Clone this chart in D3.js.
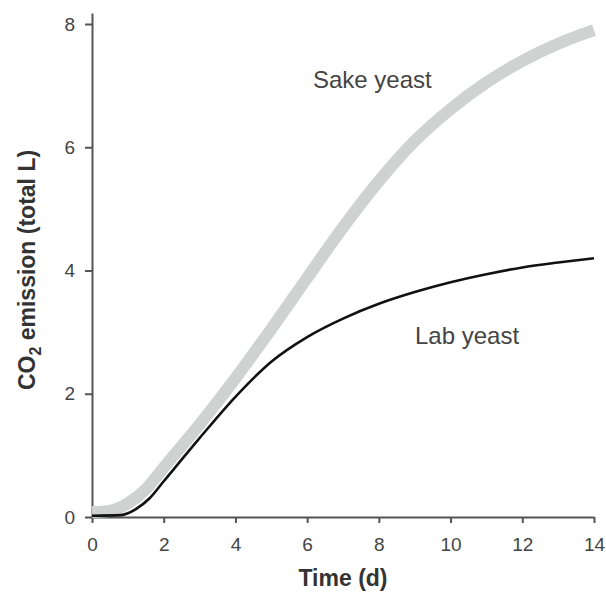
<!DOCTYPE html>
<html>
<head>
<meta charset="utf-8">
<script src="https://cdn.jsdelivr.net/npm/d3@7"></script>
<style>
  body { margin: 0; background: #fff; }
  svg { font-family: "Liberation Sans", Arial, sans-serif; }
</style>
</head>
<body>
<svg id="vis"></svg>
<script>
// Datos
const DAYS_SAKE = [0, 0.5, 1, 1.5, 2, 3, 4, 5, 6, 7, 8, 9, 10, 11, 12, 13, 14];
const CO2_SAKE = [0.08, 0.1, 0.22, 0.45, 0.8, 1.5, 2.25, 3.05, 3.88, 4.7, 5.45, 6.1, 6.62, 7.05, 7.4, 7.68, 7.9];
const DAYS_LAB = [0, 0.8, 1, 1.2, 1.6, 2, 3, 4, 5, 6, 7, 8, 9, 10, 11, 12, 13, 14];
const CO2_LAB = [0.02, 0.03, 0.06, 0.12, 0.3, 0.58, 1.28, 1.95, 2.52, 2.92, 3.22, 3.46, 3.65, 3.81, 3.94, 4.05, 4.13, 4.2];
const X_TICKS = [0, 2, 4, 6, 8, 10, 12, 14];
const Y_TICKS = [0, 2, 4, 6, 8];

const WIDTH = 606;
const HEIGHT = 594;

const svg = d3.select("#vis")
    .attr("width", WIDTH)
    .attr("height", HEIGHT);

const escalaX = d3.scaleLinear().domain([0, 14]).range([92, 594]);
const escalaY = d3.scaleLinear().domain([0, 8]).range([517, 24]);

// Eje X
const ejeX = svg.append("g")
    .attr("transform", `translate(0, ${escalaY(0)})`)
    .call(d3.axisBottom(escalaX).tickValues(X_TICKS).tickSize(6).tickSizeOuter(0).tickPadding(15));

// Eje Y (se alarga un poco sobre el 8)
const escalaYEje = escalaY.copy().domain([0, 8.18]).range([517, escalaY(8.18)]);
const ejeY = svg.append("g")
    .attr("transform", `translate(${escalaX(0)}, 0)`)
    .call(d3.axisLeft(escalaYEje).tickValues(Y_TICKS).tickSize(7).tickSizeOuter(0).tickPadding(10));

[ejeX, ejeY].forEach(g => {
    g.select(".domain").attr("stroke", "#555").attr("stroke-width", 2);
    g.selectAll(".tick line").attr("stroke", "#555").attr("stroke-width", 2);
    g.selectAll(".tick text")
        .attr("fill", "#444")
        .style("font-size", "19px")
        .style("font-family", "Liberation Sans, Arial, sans-serif");
});

const linea = d3.line()
    .x(d => escalaX(d[0]))
    .y(d => escalaY(d[1]))
    .curve(d3.curveMonotoneX);

// Curva levadura sake (gris gruesa)
svg.append("path")
    .datum(DAYS_SAKE.map((d, i) => [d, CO2_SAKE[i]]))
    .attr("fill", "none")
    .attr("stroke", "#d0d1d1")
    .attr("stroke-width", 12)
    .attr("d", linea);

// Curva levadura de laboratorio
svg.append("path")
    .datum(DAYS_LAB.map((d, i) => [d, CO2_LAB[i]]))
    .attr("fill", "none")
    .attr("stroke", "#111")
    .attr("stroke-width", 2.6)
    .attr("d", linea);

// Etiquetas de series
svg.append("text")
    .attr("x", 313)
    .attr("y", 88)
    .attr("fill", "#444")
    .style("font-size", "24px")
    .text("Sake yeast");

svg.append("text")
    .attr("x", 415)
    .attr("y", 344)
    .attr("fill", "#444")
    .style("font-size", "24px")
    .text("Lab yeast");

// Nombres de ejes
svg.append("text")
    .attr("x", 343)
    .attr("y", 586)
    .attr("text-anchor", "middle")
    .attr("fill", "#333")
    .style("font-size", "23px")
    .style("font-weight", "bold")
    .text("Time (d)");

const tituloY = svg.append("text")
    .attr("transform", "translate(35, 270) rotate(-90)")
    .attr("text-anchor", "middle")
    .attr("fill", "#333")
    .style("font-size", "23px")
    .style("font-weight", "bold");
tituloY.append("tspan").text("CO");
tituloY.append("tspan").attr("dy", 6).style("font-size", "16px").text("2");
tituloY.append("tspan").attr("dy", -6).text(" emission (total L)");
</script>
</body>
</html>
